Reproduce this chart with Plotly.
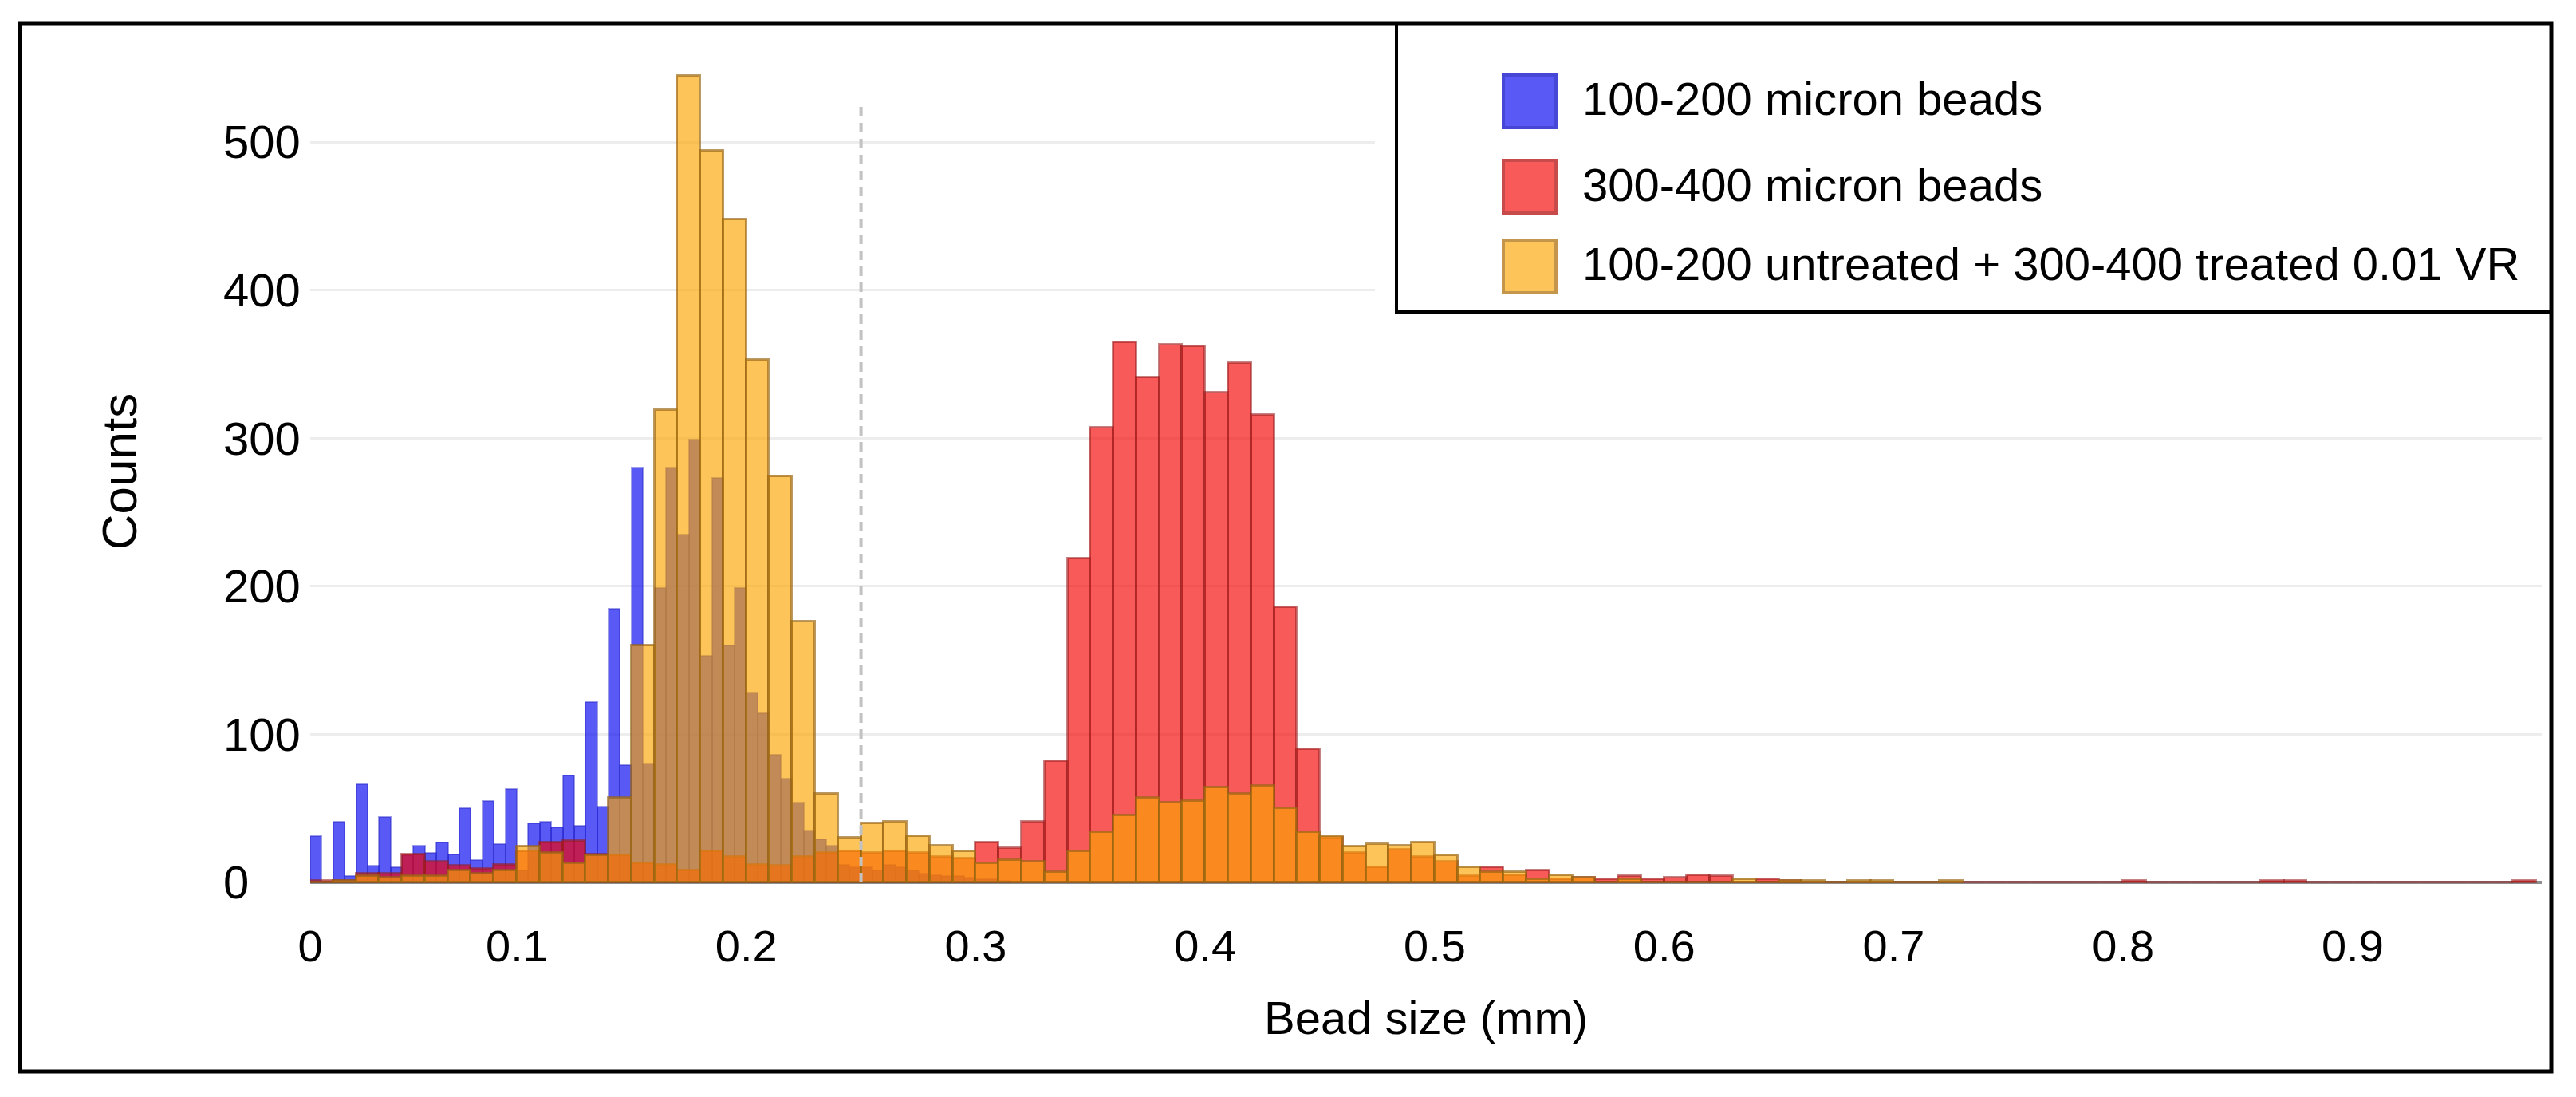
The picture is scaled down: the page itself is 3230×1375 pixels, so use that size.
import plotly.graph_objects as go

# ---------------- data ----------------
BIN_START = 0.01      # left edge of the first bin (mm)
WIDE_BIN = 0.01       # bin width of the 300-400 and mixed series (mm)
NARROW_BIN = 0.005    # bin width of the 100-200 series (mm)

beads_100_200 = [31, 0, 41, 4, 66, 11, 44, 10, 18, 25,
                 20, 27, 19, 50, 15, 55, 26, 63, 8, 40,
                 41, 37, 72, 38, 122, 51, 185, 79, 280, 80,
                 199, 280, 235, 299, 153, 273, 160, 199, 128, 114,
                 86, 70, 54, 35, 29, 25, 12, 10, 10, 8,
                 12, 10, 8, 6, 5, 4, 4, 3, 2, 2,
                 1]

beads_300_400 = [1, 1, 6, 6, 19, 14, 11, 9, 12, 21,
                 27, 28, 19, 18, 13, 12, 8, 21, 17, 12,
                 11, 17, 20, 21, 20, 21, 20, 17, 16, 27,
                 23, 41, 82, 219, 307, 365, 341, 363, 362, 331,
                 351, 316, 186, 90, 30, 20, 10, 22, 17, 14,
                 4, 10, 5, 8, 2, 3, 2, 4, 2, 3,
                 5, 4, 0, 2, 1, 0, 0, 0, 0, 0,
                 0, 0, 0, 0, 0, 0, 0, 0, 0, 1,
                 0, 0, 0, 0, 0, 1, 1, 0, 0, 0,
                 0, 0, 0, 0, 0, 0, 1]

beads_mixed = [0, 1, 4, 3, 4, 4, 8, 6, 8, 24,
               20, 13, 18, 57, 160, 319, 545, 494, 448, 353,
               274, 176, 60, 30, 40, 41, 31, 25, 21, 13,
               15, 14, 7, 21, 34, 45, 57, 54, 55, 64,
               60, 65, 50, 34, 31, 24, 26, 25, 27, 18,
               10, 7, 7, 2, 5, 3, 0, 2, 0, 0,
               0, 0, 2, 0, 1, 1, 0, 1, 1, 0,
               0, 1]

series_names = ["100-200 micron beads",
                "300-400 micron beads",
                "100-200 untreated + 300-400 treated 0.01 VR"]

x_tick_values = [0.01, 0.1, 0.2, 0.3, 0.4, 0.5, 0.6, 0.7, 0.8, 0.9]
x_tick_labels = ["0", "0.1", "0.2", "0.3", "0.4", "0.5", "0.6", "0.7", "0.8", "0.9"]
y_tick_values = [0, 100, 200, 300, 400, 500]
threshold_mm = 0.25

# ---------------- styling ----------------
FONT = "Liberation Sans, Arial, sans-serif"
W, H = 3230, 1375
ML, MR, MT, MB = 276, 43, 39, 232
PW, PH = W - ML - MR, H - MT - MB
Y_MIN, Y_MAX = -20, 575


def px(x):
    return (x - ML) / PW


def py(y):
    return (H - MB - y) / PH


def centers(n, start, size):
    return [start + size * (i + 0.5) for i in range(n)]


fills = ["rgba(0,0,240,0.65)", "rgba(245,0,0,0.65)", "rgba(250,165,0,0.65)"]
edges = ["rgba(40,40,200,0.45)", "rgba(150,30,30,0.55)", "rgba(150,100,20,0.65)"]
edge_w = [2, 3, 3]

fig = go.Figure()
for vals, size, name, fc, ec, ew in [
    (beads_100_200, NARROW_BIN, series_names[0], fills[0], edges[0], edge_w[0]),
    (beads_300_400, WIDE_BIN, series_names[1], fills[1], edges[1], edge_w[1]),
    (beads_mixed, WIDE_BIN, series_names[2], fills[2], edges[2], edge_w[2]),
]:
    fig.add_trace(go.Bar(
        x=centers(len(vals), BIN_START, size), y=vals, width=size, name=name,
        marker=dict(color=fc, line=dict(color=ec, width=ew)),
        showlegend=False,
    ))

shapes = [
    dict(type="line", xref="x", yref="y", x0=threshold_mm, x1=threshold_mm, y0=0, y1=528,
         line=dict(color="#c2c2c2", width=4, dash="12px,8px"), layer="above"),
    dict(type="rect", xref="paper", yref="paper", x0=px(1724), x1=px(3199), y0=py(391), y1=py(29),
         fillcolor="white", line=dict(width=0), layer="above"),
    dict(type="rect", xref="paper", yref="paper", x0=px(1751), x1=px(3199), y0=py(391), y1=py(29),
         line=dict(color="black", width=4), layer="above"),
    dict(type="rect", xref="paper", yref="paper", x0=px(25), x1=px(3199), y0=py(1343), y1=py(29),
         line=dict(color="black", width=5), layer="above"),
]
sym_fill = ["rgb(89,89,245)", "rgb(248,89,89)", "rgb(252,196,89)"]
sym_line = ["rgb(70,70,215)", "rgb(200,75,75)", "rgb(195,150,75)"]
row_y = [127, 234, 334]
annotations = []
for i in range(3):
    shapes.append(dict(type="rect", xref="paper", yref="paper",
                       x0=px(1885), x1=px(1951), y0=py(row_y[i] + 33), y1=py(row_y[i] - 33),
                       fillcolor=sym_fill[i], line=dict(color=sym_line[i], width=4), layer="above"))
    annotations.append(dict(xref="paper", yref="paper", x=px(1982), y=py(row_y[i] - 3),
                            xanchor="left", yanchor="middle", showarrow=False,
                            text=series_names[i], font=dict(family=FONT, size=58, color="black")))

fig.update_layout(
    width=W, height=H,
    margin=dict(l=ML, r=MR, t=MT, b=MB, pad=0),
    paper_bgcolor="white", plot_bgcolor="white",
    barmode="overlay", bargap=0,
    font=dict(family=FONT, color="black"),
    shapes=shapes, annotations=annotations,
    xaxis=dict(
        domain=[px(389), 1], range=[BIN_START, 0.9824],
        anchor="free", position=(0 - Y_MIN) / (Y_MAX - Y_MIN),
        tickmode="array", tickvals=x_tick_values, ticktext=x_tick_labels,
        showgrid=False, zeroline=False,
        showline=True, linecolor="#8e8e8e", linewidth=4, layer="below traces",
        ticks="", ticklabelstandoff=30,
        tickfont=dict(family=FONT, size=56, color="black"),
        title=dict(text="Bead size (mm)", font=dict(family=FONT, size=58, color="black"), standoff=38),
    ),
    yaxis=dict(
        anchor="free", position=0, range=[Y_MIN, Y_MAX],
        tickmode="array", tickvals=y_tick_values,
        showgrid=True, gridcolor="#ededed", gridwidth=3, zeroline=False, showline=False,
        ticks="", ticklabelposition="inside",
        tickfont=dict(family=FONT, size=58, color="black"),
        title=dict(text="Counts", font=dict(family=FONT, size=62, color="black"), standoff=87),
    ),
)

fig.write_html("out.html", config={"displayModeBar": False},
               post_script="document.body.style.margin='0px';")
